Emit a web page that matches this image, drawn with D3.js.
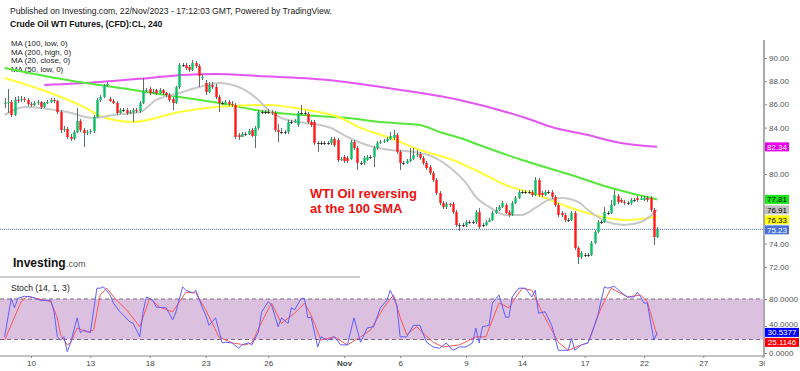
<!DOCTYPE html>
<html>
<head>
<meta charset="utf-8">
<script src="https://cdn.jsdelivr.net/npm/d3@7"></script>
<style>
  body { margin: 0; background: #fff; }
  svg { display: block; font-family: "Liberation Sans", Arial, sans-serif; }
</style>
</head>
<body>
<div id="chart"></div>
<script>
// 4h candles, bar index 0..198
var opens = [
  86.03,86.12,86.21,85.09,86.38,86.38,86.47,86.38,86.03,85.95,
  86.12,86.21,85.78,86.12,86.21,86.38,86.29,85.34,83.79,83.88,
  83.19,83.02,83.62,84.57,83.79,83.53,83.62,83.71,84.91,86.38,
  86.64,87.67,86.47,86.29,86.12,85.26,85.52,85.50,85.26,85.34,
  85.52,85.43,86.12,87.16,87.33,86.98,87.24,86.98,87.24,86.98,
  86.81,86.47,86.12,87.50,89.40,89.38,89.22,88.97,89.57,89.31,
  88.28,87.84,87.07,87.67,87.50,86.64,86.12,86.10,86.21,86.03,
  85.95,83.36,83.19,83.45,83.43,83.79,83.28,83.97,85.34,85.32,
  85.34,85.32,85.26,83.79,83.62,83.60,83.62,84.48,84.46,84.22,
  85.26,85.24,85.17,84.48,84.48,82.67,82.65,82.67,82.65,82.67,
  83.02,82.93,81.21,81.47,81.38,81.29,82.76,82.24,80.95,80.93,
  81.21,81.47,81.45,82.24,82.67,82.76,82.84,83.02,83.10,83.36,
  81.90,80.95,80.93,81.12,81.29,81.64,81.72,81.38,80.95,80.60,
  80.09,79.48,78.36,77.50,77.16,77.41,77.41,76.72,75.60,75.58,
  75.60,75.86,75.84,75.86,76.72,75.60,75.58,75.86,76.03,76.64,
  76.90,77.16,77.33,76.72,76.47,77.50,77.93,78.45,78.43,78.45,
  78.43,78.19,79.48,78.36,78.19,78.45,78.43,78.02,77.33,76.64,
  76.47,76.03,76.01,76.64,73.62,72.84,73.02,73.00,73.02,74.05,
  75.00,75.86,75.84,76.64,76.62,77.33,78.10,77.76,77.59,77.50,
  77.48,77.76,77.93,77.76,77.76,77.93,77.93,76.90,74.57
];
var highs = [
  86.55,87.33,86.38,86.64,86.72,86.72,86.64,86.55,86.21,86.29,
  86.38,86.29,86.21,86.38,86.55,86.55,86.38,85.52,84.14,84.05,
  83.45,83.79,85.69,84.74,83.97,83.79,83.88,85.09,86.55,86.81,
  87.76,87.93,86.64,86.47,86.29,85.69,85.69,85.69,85.52,85.69,
  85.69,86.29,88.28,87.41,87.50,87.33,87.33,87.41,87.33,87.07,
  86.98,86.64,87.59,89.57,89.57,89.57,89.40,89.83,89.74,89.48,
  88.62,88.10,87.93,87.93,87.76,86.81,86.29,86.38,86.38,86.29,
  86.12,83.53,83.62,83.62,83.88,83.97,84.14,85.52,85.52,85.52,
  85.60,85.52,85.43,84.31,83.97,83.79,84.66,84.66,84.74,85.43,
  85.95,85.43,85.34,84.66,84.66,82.84,82.84,82.84,82.84,83.19,
  83.19,83.10,81.47,81.64,81.55,82.93,82.93,82.41,81.12,81.55,
  81.64,81.64,82.41,82.84,82.93,83.02,83.19,83.62,83.79,83.53,
  82.07,81.12,81.29,82.24,82.24,82.07,81.90,81.55,81.12,80.78,
  80.26,79.66,78.53,77.67,77.59,77.50,77.59,76.90,75.78,75.78,
  76.03,76.03,76.03,76.90,77.07,75.78,76.03,76.21,76.81,77.16,
  77.33,77.67,77.50,76.90,77.67,78.10,78.62,78.62,78.62,78.62,
  78.62,79.74,79.66,78.53,78.62,78.62,78.62,78.19,77.50,76.81,
  76.64,76.21,76.81,76.81,73.79,73.36,73.19,73.19,74.22,75.17,
  76.03,76.03,77.16,76.81,77.76,78.62,78.28,77.93,77.76,77.67,
  77.93,77.93,78.10,78.10,78.10,78.10,78.10,77.07,75.43
];
var lows = [
  85.69,85.26,84.91,85.00,86.12,86.21,86.21,85.86,85.78,85.86,
  85.95,85.60,85.69,86.03,86.12,86.12,85.17,83.53,83.62,83.02,
  82.84,82.93,83.53,83.62,82.33,83.36,83.45,83.53,84.83,86.21,
  86.55,87.50,86.21,86.03,85.09,85.17,85.34,85.09,85.17,84.48,
  85.26,85.26,86.03,87.07,86.81,86.90,86.81,86.90,86.81,86.64,
  86.21,85.52,86.03,87.33,89.22,88.97,88.79,88.88,89.14,87.50,
  88.10,86.81,86.98,87.33,86.47,85.34,85.95,86.03,85.86,85.78,
  83.02,82.93,83.19,83.28,83.36,83.19,82.24,83.79,85.17,85.17,
  85.17,85.09,83.62,82.76,83.45,83.45,83.45,84.31,84.40,84.05,
  85.09,85.09,84.31,84.05,82.50,81.90,82.50,82.50,82.50,82.50,
  82.33,81.03,81.12,80.95,80.95,81.21,82.07,80.34,80.78,80.78,
  81.12,81.29,80.60,82.07,82.59,82.67,82.76,82.93,82.93,81.72,
  80.34,80.78,80.86,81.03,81.21,81.47,81.21,80.78,80.34,79.91,
  79.31,78.19,77.33,76.98,76.98,77.16,76.55,75.43,75.09,75.43,
  75.43,75.69,75.69,75.69,75.26,75.43,75.52,75.86,75.95,76.55,
  76.81,77.07,76.55,76.29,76.38,77.41,77.84,78.28,78.28,78.28,
  78.02,78.10,78.02,78.02,78.10,78.28,77.84,77.16,76.29,76.29,
  75.86,75.86,75.95,73.45,72.24,72.67,72.84,72.84,72.93,73.97,
  74.91,75.69,75.78,76.47,76.55,77.24,77.41,77.50,77.33,77.33,
  77.33,77.59,77.59,77.76,77.67,77.59,76.72,73.88,74.48
];
var closes = [
  86.12,86.21,85.09,86.38,86.35,86.47,86.38,86.03,85.95,86.12,
  86.21,85.78,86.12,86.21,86.38,86.29,85.34,83.79,83.88,83.19,
  83.02,83.62,84.57,83.79,83.53,83.62,83.71,84.91,86.38,86.64,
  87.67,87.76,86.29,86.12,85.26,85.52,85.50,85.26,85.34,85.52,
  85.43,86.12,87.16,87.24,86.98,87.07,86.98,87.24,86.98,86.81,
  86.38,86.12,87.50,89.40,89.38,89.14,88.97,89.57,89.31,88.45,
  88.36,87.07,87.67,87.50,86.64,86.12,86.10,86.21,86.03,85.95,
  83.19,83.19,83.45,83.43,83.71,83.28,83.97,85.34,85.32,85.34,
  85.32,85.26,83.79,83.62,83.60,83.62,84.48,84.46,84.57,85.26,
  85.24,85.26,84.48,84.22,82.67,82.65,82.67,82.65,82.67,83.02,
  82.50,81.21,81.29,81.12,81.12,82.76,82.24,80.95,80.93,81.38,
  81.47,81.45,82.24,82.67,82.76,82.84,83.02,83.28,83.36,81.90,
  80.95,80.93,81.12,81.29,81.64,81.72,81.38,80.95,80.52,80.09,
  79.48,78.36,77.50,77.16,77.41,77.33,76.72,75.60,75.58,75.60,
  75.86,75.84,75.86,76.72,75.43,75.58,75.86,76.03,76.64,76.90,
  77.16,77.50,76.64,76.47,77.50,77.93,78.45,78.43,78.45,78.43,
  78.19,79.48,78.19,78.19,78.45,78.43,78.02,77.33,76.47,76.47,
  76.03,76.01,76.64,73.62,72.84,73.19,73.00,73.02,74.05,75.00,
  75.86,75.84,76.72,76.62,77.33,78.19,77.59,77.59,77.50,77.48,
  77.76,77.74,77.76,77.91,77.93,77.76,76.90,74.57,75.23
];

// moving averages: bar index + value
var ma100Idx = [0,19,39,53,65,80,90,104,114,126,132,140,144,157,172,183,198];
var ma100Val = [89.14,88.10,87.24,86.64,86.12,85.34,85.09,84.83,84.48,84.22,83.62,82.93,82.50,81.21,79.91,78.88,77.81];
var ma200Idx = [12,29,44,54,64,77,98,118,138,159,166,177,187,198];
var ma200Val = [87.67,87.93,88.28,88.53,88.62,88.45,88.10,87.33,86.38,84.74,84.05,83.36,82.67,82.34];
var ma20Idx = [0,6,19,27,33,41,46,53,59,65,71,77,80,84,99,104,112,117,124,130,136,140,143,147,152,157,161,165,169,174,177,183,188,193,197,198];
var ma20Val = [85.09,85.78,85.34,84.83,85.09,85.34,86.38,86.98,87.50,87.84,87.50,86.38,85.52,84.83,83.97,83.19,82.33,82.07,81.90,81.47,80.34,79.22,78.02,77.16,76.47,76.47,77.07,77.76,77.93,77.59,76.90,75.86,75.60,75.86,76.64,76.91];
var ma50Idx = [0,14,24,29,39,53,64,80,90,102,108,117,126,136,144,152,160,172,183,189,198];
var ma50Val = [88.28,86.98,85.78,85.00,84.48,85.34,85.78,85.95,85.60,84.83,83.97,83.10,82.07,81.21,80.17,79.05,78.36,77.07,76.21,76.03,76.33];

// stochastic (14,1,3)
var stochKIdx = [0,2,3,4,6,8,11,14,15,16,17,18,19,20,22,23,24,26,28,29,30,32,33,35,36,38,39,41,42,43,45,46,49,51,52,54,55,57,58,60,61,62,64,66,67,69,71,72,74,75,77,78,80,81,83,84,86,87,88,90,91,92,93,95,96,98,100,102,104,106,108,110,112,114,116,117,119,120,122,124,126,128,130,132,134,136,138,140,142,143,144,145,147,148,150,152,153,154,156,158,160,161,162,164,166,168,169,171,172,173,175,177,178,180,181,182,183,185,187,189,191,192,193,194,195,197,198];
var stochKVal = [24,81,67,81,84,83,78,78,61,24,19,24,2,15,52,30,34,30,96,96,98,86,74,61,56,46,44,24,61,83,78,68,67,49,61,98,93,89,93,67,56,41,52,15,16,15,7,12,15,12,31,61,76,71,39,52,44,67,64,81,81,52,53,9,24,19,24,12,12,52,16,37,39,67,78,93,71,24,24,41,41,16,9,7,15,4,9,9,15,37,15,39,41,74,86,53,53,83,96,96,83,93,59,61,41,4,4,4,22,4,12,15,27,56,78,98,96,99,90,83,83,90,83,74,74,19,30.54];
var stochDIdx = [0,5,7,14,16,17,19,20,22,25,27,29,31,34,37,41,44,47,51,55,58,61,65,69,73,75,78,81,84,88,91,93,96,100,104,108,111,115,118,120,122,125,130,133,138,143,146,150,153,157,160,163,168,171,175,177,181,184,189,193,195,198];
var stochDVal = [19,76,84,76,52,27,12,15,37,31,34,86,96,78,64,39,81,68,61,90,89,64,24,15,12,15,46,74,44,59,74,56,19,24,12,24,34,67,86,53,27,39,16,9,12,24,24,74,67,96,93,61,16,4,12,15,67,96,83,86,76,25.11];

var priceTicks = [72,74,76,78,80,82,84,86,88,90];
var stochTicks = [0,40,80];
var dayTickIdx = [8,26,44,61,80,103,120,140,157,176,194,212,230];
var dayTickLabels = ["10","13","18","23","26","Nov","6","9","14","17","22","27","30"];

var lastLabels = [
  {v: 82.34, bg: "#e800e8", fg: "#fff"},
  {v: 77.81, bg: "#19e619", fg: "#000"},
  {v: 76.91, bg: "#c0c0c0", fg: "#000"},
  {v: 76.33, bg: "#ffff00", fg: "#000"},
  {v: 75.23, bg: "#4a72dc", fg: "#fff"}
];
var stochLabels = [
  {v: 30.5377, bg: "#0000ff", fg: "#fff"},
  {v: 25.1146, bg: "#ff0000", fg: "#fff"}
];

var W = 800, H = 371, axisX = 764;

var svg = d3.select("#chart").append("svg")
    .attr("width", W)
    .attr("height", H);

var x = d3.scaleLinear().domain([8, 194]).range([31, 644]);
var y = d3.scaleLinear().domain([72, 90]).range([266.8, 58]);
var ys = d3.scaleLinear().domain([0, 80]).range([353, 299]);

svg.append("defs").append("clipPath").attr("id", "mainClip")
  .append("rect").attr("x", 0).attr("y", 35).attr("width", axisX).attr("height", 241);

// header texts
svg.append("text").attr("x", 10).attr("y", 13.5)
    .style("font-size", "8.6px").style("fill", "#222")
    .text("Published on Investing.com, 22/Nov/2023 - 17:12:03 GMT, Powered by TradingView.");
svg.append("text").attr("x", 10).attr("y", 27)
    .style("font-size", "8.6px").style("font-weight", "bold").style("fill", "#111")
    .text("Crude Oil WTI Futures, (CFD):CL, 240");

var legend = ["MA (100, low, 0)", "MA (200, high, 0)", "MA (20, close, 0)", "MA (50, low, 0)"];
svg.selectAll(".legend").data(legend).enter().append("text")
    .attr("class", "legend")
    .attr("x", 11)
    .attr("y", function(d, i) { return 46 + i * 8.6; })
    .style("font-size", "7.9px").style("fill", "#222")
    .text(function(d) { return d; });

var main = svg.append("g").attr("clip-path", "url(#mainClip)");

// last price dotted line
main.append("line")
    .attr("x1", 0).attr("x2", axisX)
    .attr("y1", y(closes[closes.length - 1])).attr("y2", y(closes[closes.length - 1]))
    .style("stroke", "#4a72dc").style("stroke-width", 1).style("stroke-dasharray", "1,1");

// moving averages
function drawMA(idx, val, color) {
    var pts = idx.map(function(d, i) { return [d, val[i]]; });
    var line = d3.line()
        .x(function(d) { return x(d[0]); })
        .y(function(d) { return y(d[1]); })
        .curve(d3.curveMonotoneX);
    main.append("path").datum(pts)
        .attr("d", line)
        .style("fill", "none").style("stroke", color).style("stroke-width", 2);
}
drawMA(ma200Idx, ma200Val, "#e455f2");
drawMA(ma100Idx, ma100Val, "#55e83a");
drawMA(ma50Idx, ma50Val, "#ffff3a");
drawMA(ma20Idx, ma20Val, "#c8c8c8");

// candles
var bars = closes.map(function(c, i) {
    return {i: i, o: opens[i], h: highs[i], l: lows[i], c: c};
});
var bw = 2.4;
function candleColor(d) {
    if (Math.abs(d.c - d.o) < 0.03) return "#222";
    return d.c > d.o ? "#0cbf66" : "#ff1a1a";
}
main.selectAll(".wick").data(bars).enter().append("line")
    .attr("class", "wick")
    .attr("x1", function(d) { return Math.round(x(d.i)) + 0.5; })
    .attr("x2", function(d) { return Math.round(x(d.i)) + 0.5; })
    .attr("y1", function(d) { return y(d.h); })
    .attr("y2", function(d) { return y(d.l); })
    .style("stroke", "#5f6f64").style("stroke-width", 1);
main.selectAll(".body").data(bars).enter().append("rect")
    .attr("class", "body")
    .attr("x", function(d) { return Math.round(x(d.i)) + 0.5 - bw / 2; })
    .attr("y", function(d) { return y(Math.max(d.o, d.c)); })
    .attr("width", bw)
    .attr("height", function(d) { return Math.max(1, Math.abs(y(d.o) - y(d.c))); })
    .style("fill", candleColor);

// annotation
var note = svg.append("text").style("font-size", "13px").style("font-weight", "bold").style("fill", "#f01010");
note.append("tspan").attr("x", 310).attr("y", 198).text("WTI Oil reversing");
note.append("tspan").attr("x", 310).attr("y", 212.5).text("at the 100 SMA");

// investing logo
svg.append("text").attr("x", 13).attr("y", 267)
    .style("font-size", "12px").style("font-weight", "bold").style("fill", "#111")
    .text("Investing");
svg.append("text").attr("x", 66).attr("y", 267)
    .style("font-size", "9px").style("fill", "#555").text(".com");

// pane separator
svg.append("line").attr("x1", 0).attr("x2", 360).attr("y1", 277).attr("y2", 277)
    .style("stroke", "#999").style("stroke-width", 1);

// stochastic pane
svg.append("rect")
    .attr("x", 0).attr("width", axisX)
    .attr("y", ys(80)).attr("height", ys(20) - ys(80))
    .style("fill", "#dcc0e0");
svg.selectAll(".band").data([80, 20]).enter().append("line")
    .attr("class", "band")
    .attr("x1", 0).attr("x2", axisX)
    .attr("y1", function(d) { return ys(d); }).attr("y2", function(d) { return ys(d); })
    .style("stroke", "#7a6a80").style("stroke-width", 1).style("stroke-dasharray", "4,3");

function drawStoch(idx, val, color) {
    var pts = idx.map(function(d, i) { return [d, val[i]]; });
    var line = d3.line()
        .x(function(d) { return x(d[0]); })
        .y(function(d) { return ys(d[1]); });
    svg.append("path").datum(pts)
        .attr("d", line)
        .style("fill", "none").style("stroke", color).style("stroke-width", 1);
}
drawStoch(stochDIdx, stochDVal, "#ff5555");
drawStoch(stochKIdx, stochKVal, "#5f5fff");

svg.append("text").attr("x", 11).attr("y", 291)
    .style("font-size", "8.6px").style("fill", "#222")
    .text("Stoch (14, 1, 3)");

// x axis
var xAxis = d3.axisBottom(x)
    .tickValues(dayTickIdx)
    .tickFormat(function(d, i) { return dayTickLabels[i]; })
    .tickSize(2)
    .tickPadding(2);
var gx = svg.append("g").attr("transform", "translate(0,356)").call(xAxis);
gx.select(".domain").remove();
gx.selectAll("line").style("stroke", "#888");
gx.selectAll("text").style("font-size", "8px").style("fill", "#444")
    .style("font-family", "Liberation Sans, Arial, sans-serif")
    .style("font-weight", function(d, i) { return dayTickLabels[i] === "Nov" ? "bold" : "normal"; });
svg.append("line").attr("x1", 0).attr("x2", axisX).attr("y1", 356).attr("y2", 356)
    .style("stroke", "#888").style("stroke-width", 1);

// cover right part for axis area
svg.append("rect").attr("x", axisX + 1).attr("y", 357).attr("width", W - axisX).attr("height", 14)
    .style("fill", "#fff");

// value boxes on the axes, pushed apart when they collide
function boxPositions(items, scale) {
    var pos = items.map(function(d) { return {d: d, y: scale(d.v)}; })
        .sort(function(a, b) { return a.y - b.y; });
    for (var k = 1; k < pos.length; k++) {
        if (pos[k].y < pos[k - 1].y + 10) pos[k].y = pos[k - 1].y + 10;
    }
    return pos;
}
var priceBoxes = boxPositions(lastLabels, y);
var stochBoxes = boxPositions(stochLabels, ys);

function hiddenBy(boxes, yy) {
    return boxes.some(function(p) { return Math.abs(p.y - yy) < 9; });
}

// price axis
var yAxis = d3.axisRight(y).tickValues(priceTicks).tickFormat(d3.format(".2f")).tickSize(3).tickPadding(2);
var gy = svg.append("g").attr("transform", "translate(" + axisX + ",0)").call(yAxis);
gy.select(".domain").remove();
gy.selectAll("line").style("stroke", "#888");
gy.selectAll("text").style("font-size", "8px").style("fill", "#555")
    .style("font-family", "Liberation Sans, Arial, sans-serif");
gy.selectAll(".tick").filter(function(d) { return hiddenBy(priceBoxes, y(d)); }).remove();

var sAxis = d3.axisRight(ys).tickValues(stochTicks).tickFormat(d3.format(".4f")).tickSize(3).tickPadding(2);
var gs = svg.append("g").attr("transform", "translate(" + axisX + ",0)").call(sAxis);
gs.select(".domain").remove();
gs.selectAll("line").style("stroke", "#888");
gs.selectAll("text").style("font-size", "8px").style("fill", "#555")
    .style("font-family", "Liberation Sans, Arial, sans-serif");
gs.selectAll(".tick text").filter(function(d) { return d === 40; }).attr("dy", "0.1em");

svg.append("line").attr("x1", axisX).attr("x2", axisX).attr("y1", 40).attr("y2", 357)
    .style("stroke", "#aaa").style("stroke-width", 2);

function drawBoxes(pos, w) {
    var g = svg.append("g");
    pos.forEach(function(p) {
        g.append("rect").attr("x", axisX + 1).attr("y", p.y - 4.5)
            .attr("width", w).attr("height", 9).style("fill", p.d.bg);
        g.append("text").attr("x", axisX + 1 + w / 2).attr("y", p.y + 3)
            .style("text-anchor", "middle").style("font-size", "8px").style("fill", p.d.fg)
            .text(p.d.v.toFixed(p.d.v.toString().split(".")[1].length));
    });
}
drawBoxes(priceBoxes, 24);
drawBoxes(stochBoxes, 34);
</script>
</body>
</html>
